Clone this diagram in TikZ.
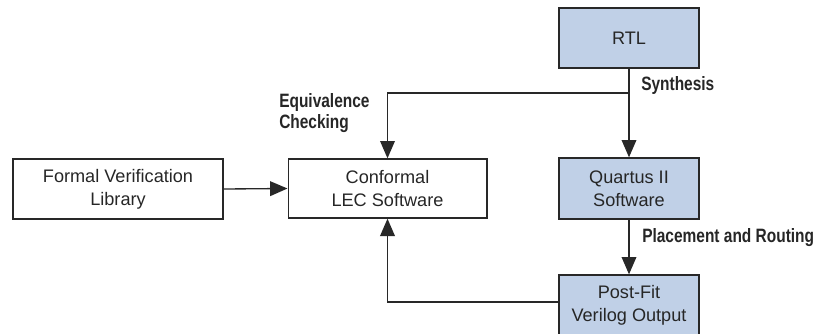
\documentclass[tikz,border=0pt]{standalone}
\usepackage{fontspec}
\setmainfont{Liberation Sans}
\newfontfamily\condbold[FakeStretch=0.8]{Liberation Sans Bold}
\usetikzlibrary{arrows.meta}
\definecolor{boxblue}{RGB}{192,208,231}
\definecolor{edge}{RGB}{40,40,40}
\begin{document}
\begin{tikzpicture}[x=0.75pt,y=-0.75pt,
  box/.style={draw=edge,line width=1pt,minimum width=105pt,minimum height=45pt,inner sep=0pt,align=center,
    font=\fontsize{13.6}{17.2}\selectfont,text=black!85},
  bluebox/.style={box,fill=boxblue},
  conn/.style={draw=edge,line width=1pt},
  arr/.style={conn,-{Triangle[length=13pt,width=11pt]}},
  lbl/.style={font=\condbold\fontsize{14.5}{16}\selectfont,text=black!85,align=left,inner sep=0pt,anchor=west}]
\useasboundingbox (0,0) rectangle (820,333);
\node[bluebox] (rtl) at (629,38) {RTL};
\node[bluebox,minimum height=45.75pt] (quartus) at (629,188.5) {Quartus II\\Software};
\node[bluebox] (postfit) at (629,305) {Post-Fit\\Verilog Output};
\node[box,minimum width=149pt,minimum height=44.25pt] (lec) at (387.5,188.5) {Conformal\\LEC Software};
\node[box,minimum width=157.5pt,minimum height=45pt] (fvl) at (118,189) {Formal Verification\\Library};
\coordinate (br) at (rtl.south |- 0,93);
\coordinate (fb) at (lec.south |- 0,302);
\node[lbl] (syn) at (641,85) {Synthesis};
\node[lbl] (eq) at (279,113) {Equivalence\\Checking};
\node[lbl] (pr) at (642,238) {Placement and Routing};
\draw[arr] (rtl.south) -- (quartus.north);
\draw[arr] (br) -| (lec.north);
\draw[arr] (quartus.south) -- (postfit.north);
\draw[arr] (fvl.east) -- (lec.west);
\draw[arr] (postfit.west |- fb) -- (fb) -- (lec.south);
\end{tikzpicture}
\end{document}
